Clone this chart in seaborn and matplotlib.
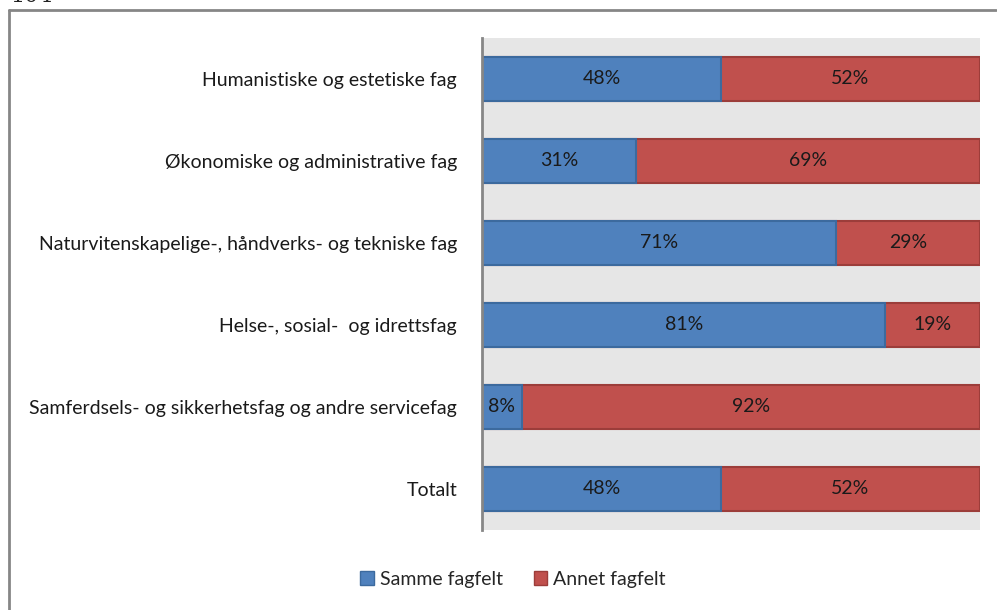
import matplotlib
matplotlib.use("Agg")
import matplotlib.pyplot as plt
import seaborn as sns
import pandas as pd
from matplotlib.lines import Line2D
from matplotlib.patches import Patch

categories = [
    "Humanistiske og estetiske fag",
    "Økonomiske og administrative fag",
    "Naturvitenskapelige-, håndverks- og tekniske fag",
    "Helse-, sosial-  og idrettsfag",
    "Samferdsels- og sikkerhetsfag og andre servicefag",
    "Totalt",
]
samme = [48, 31, 71, 81, 8, 48]
annet = [52, 69, 29, 19, 92, 52]
series_names = ["Samme fagfelt", "Annet fagfelt"]

blue, red = "#4F81BD", "#C0504D"
blue_edge, red_edge = "#3C6A9E", "#9C3D3A"

sns.set_theme(style="white")
plt.rcParams["font.family"] = ["Lato", "DejaVu Sans"]

df = pd.DataFrame({"kategori": categories, "samme": samme, "annet": annet})
df["total"] = df["samme"] + df["annet"]

fig = plt.figure(figsize=(9.97, 6.10), dpi=100)
ax = fig.add_axes([482 / 997, 1 - 530 / 610, (980 - 482) / 997, (530 - 38) / 610])
ax.set_facecolor("#E6E6E6")

bar_h = 0.53
# Full-width bar (red) underneath, blue share drawn on top
sns.barplot(data=df, y="kategori", x="total", orient="h", color=red, width=bar_h,
            edgecolor=red_edge, linewidth=1.5, ax=ax, saturation=1)
sns.barplot(data=df, y="kategori", x="samme", orient="h", color=blue, width=bar_h,
            edgecolor=blue_edge, linewidth=1.5, ax=ax, saturation=1)

for i, (s, a) in enumerate(zip(samme, annet)):
    ax.text(s / 2, i, f"{s}%", ha="center", va="center", fontsize=14, color="#1a1a1a")
    ax.text(s + a / 2, i, f"{a}%", ha="center", va="center", fontsize=14, color="#1a1a1a")

ax.set_xlim(0, 100)
ax.set_ylim(5.5, -0.5)
ax.set_xlabel("")
ax.set_ylabel("")
ax.set_xticks([])
ax.tick_params(axis="y", length=0, pad=18, labelsize=14, labelcolor="#1a1a1a")
for side in ["top", "right", "bottom"]:
    ax.spines[side].set_visible(False)
ax.spines["left"].set_color("#868686")
ax.spines["left"].set_linewidth(2)

handles = [
    Patch(facecolor=blue, edgecolor=blue_edge, linewidth=1),
    Patch(facecolor=red, edgecolor=red_edge, linewidth=1),
]
fig.legend(handles, series_names, loc="center", bbox_to_anchor=(513 / 997, 1 - 579 / 610),
           ncol=2, frameon=False, fontsize=14, handlelength=0.7, handleheight=0.7,
           handletextpad=0.3, columnspacing=1.6)

# Surrounding frame and page number
fig.add_artist(Line2D([8.5 / 997, 8.5 / 997], [0, 1 - 9.5 / 610], transform=fig.transFigure,
                      color="#868686", linewidth=2))
fig.add_artist(Line2D([8.5 / 997, 996 / 997], [1 - 9.5 / 610, 1 - 9.5 / 610],
                      transform=fig.transFigure, color="#868686", linewidth=2))
fig.text(10 / 997, 1 - 7 / 610, "104", ha="left", va="bottom", fontsize=16,
         family="DejaVu Serif", color="#222222")

fig.savefig("out.png", dpi=100)
